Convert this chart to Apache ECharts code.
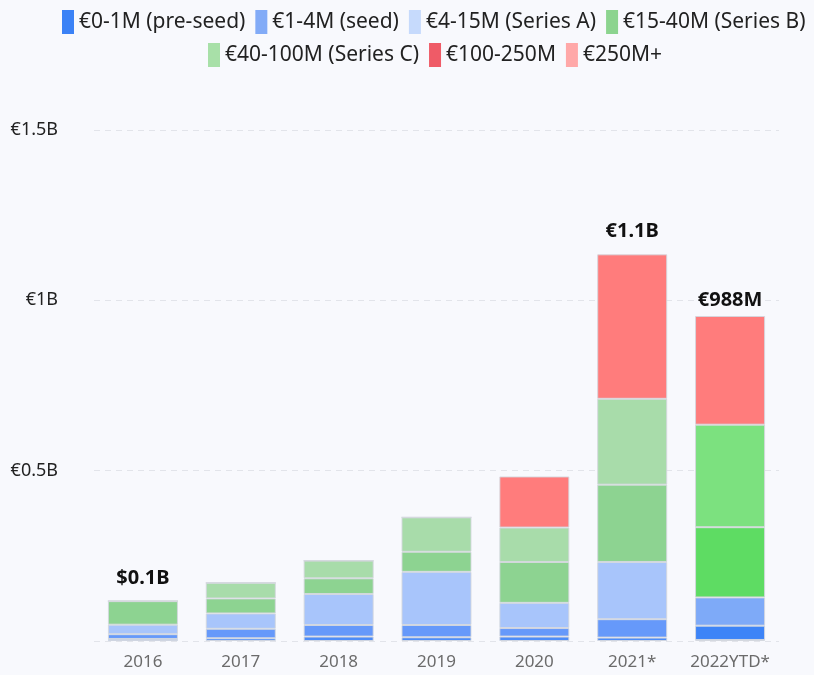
<!DOCTYPE html>
<html>
<head>
<meta charset="utf-8">
<script src="https://cdn.jsdelivr.net/npm/echarts@6/dist/echarts.min.js"></script>
<style>
  html, body { margin: 0; padding: 0; background: #f8f9fd; }
  #chart { width: 814px; height: 675px; }
</style>
</head>
<body>
<div id="chart"></div>
<script>
// years on the x axis
var years = ['2016', '2017', '2018', '2019', '2020', '2021*', '2022YTD*'];

// funding per round size, in €M
var preSeed  = [6, 8, 13, 11, 13, 10, 3];
var seed     = [14, 28, 34, 36, 25, 54, 42];
var seriesA  = [28, 45, 91, 156, 74, 168, 83];
var seriesB  = [69, 44, 46, 59, 120, 227, 206];
var seriesC  = [0, 46, 52, 101, 101, 252, 301];
var r100_250 = [0, 0, 0, 0, 150, 424, 319];
var r250plus = [0, 0, 0, 0, 0, 0, 0];

var seriesNames = ['€0-1M (pre-seed)', '€1-4M (seed)', '€4-15M (Series A)', '€15-40M (Series B)',
  '€40-100M (Series C)', '€100-250M', '€250M+'];

// totals written above some bars
var totalLabels = ['$0.1B', '', '', '', '', '€1.1B', '€988M'];

// y ticks (€M) and their labels
var yTicks = [0, 500, 1000, 1500];
var yTickLabels = ['', '€0.5B', '€1B', '€1.5B'];

var legendColors = ['#3b82f6', '#82abf7', '#c6dafc', '#8cd48f', '#a8e0a8', '#ef5b67', '#ffa8a8'];
var barColors    = ['#4d8cf7', '#6699fa', '#a8c5fb', '#8dd391', '#a8dcaa', '#ff7c7c', '#ffa8a8'];
var lastColors   = ['#2f74f0', '#3d84f7', '#7eaaf8', '#5edc63', '#7ce17f', '#ff7c7c', '#ffa8a8'];

var allData = [preSeed, seed, seriesA, seriesB, seriesC, r100_250, r250plus];
var FONT = "'Noto Sans', sans-serif";

var chart = echarts.init(document.getElementById('chart'));

var series = allData.map(function (vals, s) {
  var isTop = s === allData.length - 1;
  return {
    name: seriesNames[s],
    type: 'bar',
    stack: 'total',
    barWidth: 70,
    itemStyle: {
      color: barColors[s],
      borderColor: isTop ? 'transparent' : 'rgba(212,215,222,0.9)',
      borderWidth: isTop ? 0 : 1
    },
    label: isTop ? {
      show: true,
      position: 'top',
      distance: 13,
      fontSize: 20,
      fontWeight: 'bold',
      color: '#111',
      fontFamily: FONT,
      formatter: function (p) { return totalLabels[p.dataIndex]; }
    } : { show: false },
    data: vals.map(function (v, i) {
      // 2022 bar is drawn in stronger colours, its total sits a bit closer
      if (i === vals.length - 1) {
        return { value: v, itemStyle: { color: lastColors[s] }, label: { distance: 6 } };
      }
      return v;
    })
  };
});

function legendRow(names, left, top) {
  return {
    left: left,
    top: top,
    itemWidth: 12,
    itemHeight: 24,
    itemGap: 10,
    icon: 'rect',
    textStyle: { fontSize: 21, color: '#222', fontFamily: FONT },
    data: names.map(function (n) {
      var idx = seriesNames.indexOf(n);
      return { name: n, itemStyle: { color: legendColors[idx], borderWidth: 0 } };
    })
  };
}

chart.setOption({
  backgroundColor: '#f8f9fd',
  animation: false,
  legend: [
    legendRow(seriesNames.slice(0, 4), 57, 5),
    legendRow(seriesNames.slice(4), 203, 38)
  ],
  grid: {
    left: 94,
    right: 35,
    top: 130,
    bottom: 34
  },
  xAxis: {
    type: 'category',
    data: years,
    axisLine: { show: false },
    axisTick: { show: false },
    axisLabel: {
      interval: 0,
      color: '#6b6b6b',
      fontSize: 17,
      margin: 13,
      fontFamily: FONT
    }
  },
  yAxis: {
    type: 'value',
    min: yTicks[0],
    max: yTicks[yTicks.length - 1],
    interval: yTicks[1] - yTicks[0],
    axisLine: { show: false },
    axisTick: { show: false },
    splitLine: {
      lineStyle: { color: '#e2e4ea', type: [6, 5], width: 1 }
    },
    axisLabel: {
      color: '#222',
      fontSize: 18,
      margin: 36,
      fontFamily: FONT,
      formatter: function (v) { return yTickLabels[yTicks.indexOf(v)]; }
    }
  },
  series: series
});
</script>
</body>
</html>
